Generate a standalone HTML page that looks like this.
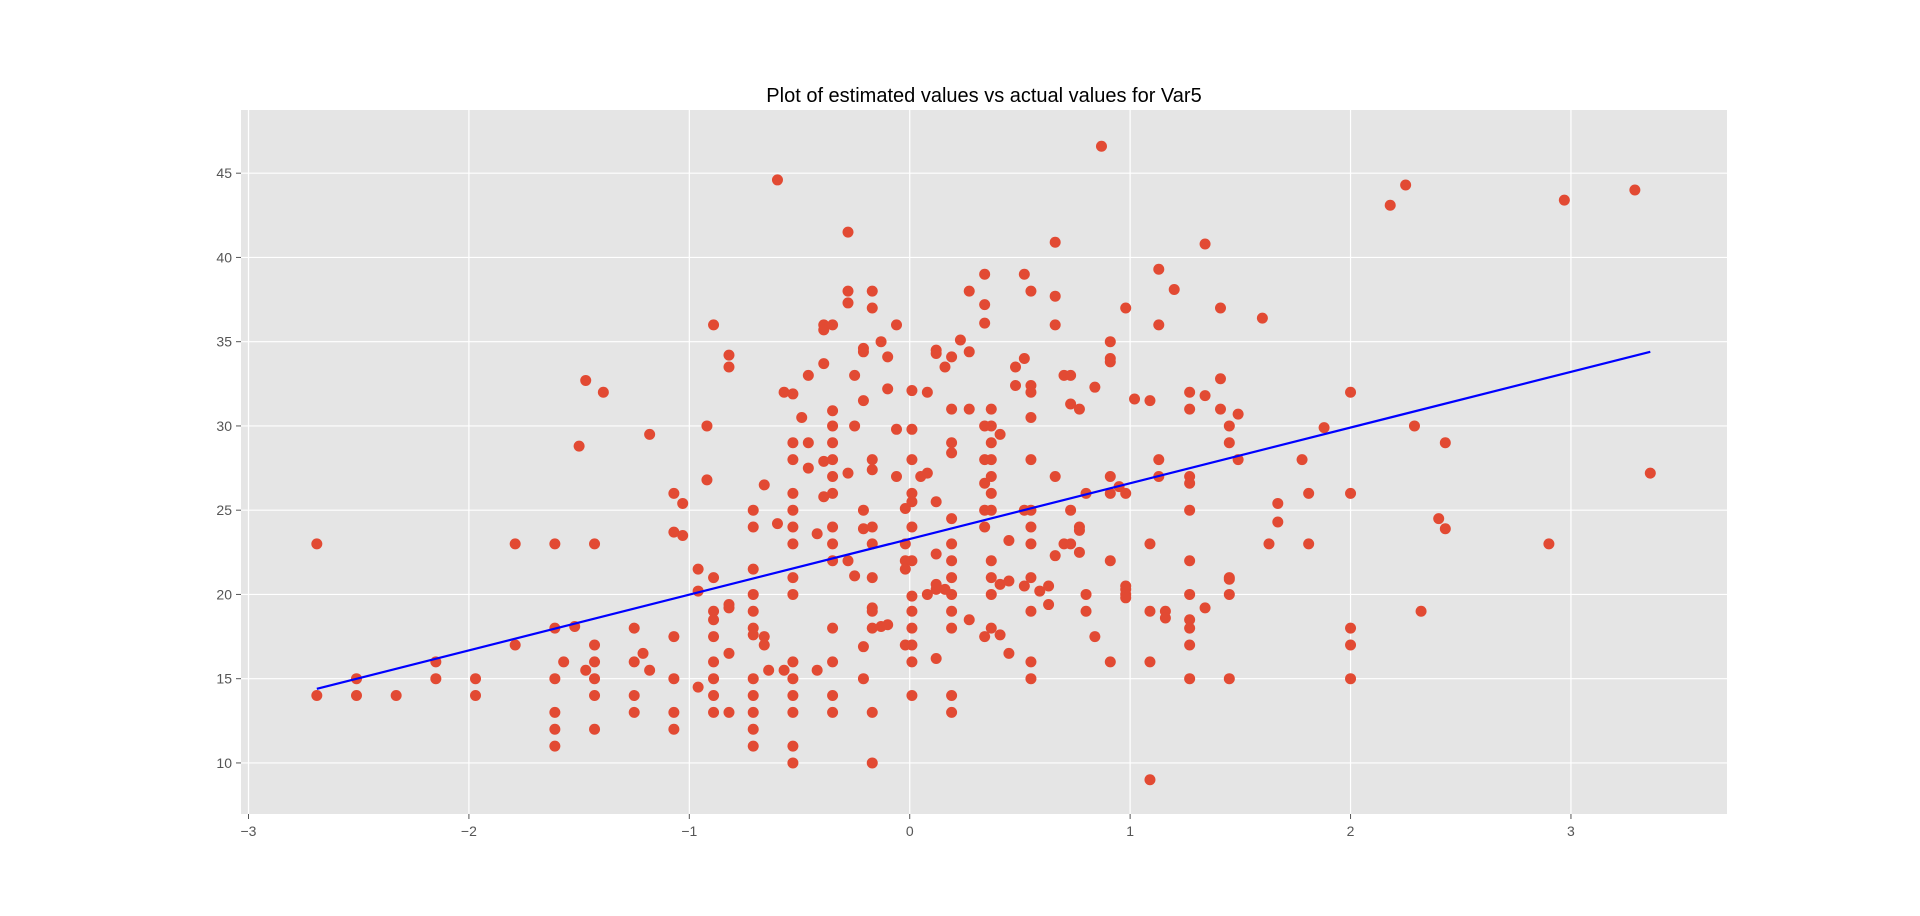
<!DOCTYPE html>
<html><head><meta charset="utf-8"><style>
html,body{margin:0;padding:0;background:#fff;}
svg{display:block;font-family:"Liberation Sans","DejaVu Sans",sans-serif;}
</style></head><body>
<svg id="chart" width="1920" height="916" viewBox="0 0 1920 916" xmlns="http://www.w3.org/2000/svg">
<rect x="0" y="0" width="1920" height="916" fill="#ffffff"/>
<rect x="241" y="110" width="1486" height="704" fill="#e5e5e5"/>
<g id="grid"></g>
<g id="ticks"></g>
<g id="points"></g>
<g id="fit"></g>
<text x="984" y="102" text-anchor="middle" font-size="20" fill="#000">Plot of estimated values vs actual values for Var5</text>
</svg>
<script>
const xTicks = [-3, -2, -1, 0, 1, 2, 3];
const yTicks = [10, 15, 20, 25, 30, 35, 40, 45];
const groupX = [-2.69,-2.51,-2.33,-2.15,-1.97,-1.79,-1.61,-1.57,-1.52,-1.50,-1.47,-1.43,-1.39,-1.25,-1.21,-1.18,-1.07,-1.03,-0.96,-0.92,-0.89,-0.82,-0.71,-0.66,-0.64,-0.60,-0.57,-0.53,-0.49,-0.46,-0.42,-0.39,-0.35,-0.28,-0.25,-0.21,-0.17,-0.13,-0.10,-0.06,-0.02,0.01,0.05,0.08,0.12,0.16,0.19,0.23,0.27,0.34,0.37,0.41,0.45,0.48,0.52,0.55,0.59,0.63,0.66,0.70,0.73,0.77,0.80,0.84,0.87,0.91,0.95,0.98,1.02,1.09,1.13,1.16,1.20,1.27,1.34,1.41,1.45,1.49,1.60,1.63,1.67,1.78,1.81,1.88,2.00,2.18,2.25,2.29,2.32,2.40,2.43,2.90,2.97,3.29,3.36];
const groupY = [
[23,14],[15,14],[14],[16,15],[15,14],[23,17],[23,18,15,13,12,11],[16],[18.1],[28.8],[32.7,15.5],[23,17,16,15,14,12],[32],
[18,16,14,13],[16.5],[29.5,15.5],[26,23.7,17.5,15,13,12],[25.4,23.5],[21.5,20.2,14.5],[30,26.8],
[36,21,19,18.5,17.5,16,15,14,13],[34.2,33.5,19.4,19.2,16.5,13],[25,24,21.5,20,19,18,17.6,15,14,13,12,11],
[26.5,17,17.5],[15.5],[24.2,44.6],[32,15.5],[31.9,29,28,26,25,24,23,21,20,16,15,14,13,11,10],[30.5],[33,29,27.5],
[23.6,15.5],[33.7,36,35.7,27.9,25.8],[36,30.9,30,29,28,27,26,24,23,22,18,16,14,13],[41.5,38,37.3,22,27.2],[33,30,21.1],
[34.6,34.4,31.5,25,23.9,16.9,15],[38,37,28,27.4,24,23,21,19.2,19,18,13,10],[35,18.1],[32.2,34.1,18.2],[36,29.8,27],
[25.1,23,22,21.5,17],[32.1,29.8,28,26,25.5,24,22,19.9,19,18,17,16,14],[27],[32,27.2,20],[34.5,34.3,25.5,22.4,20.6,20.3,16.2],
[33.5,20.3],[34.1,31,29,28.4,24.5,23,22,21,20,19,18,14,13],[35.1],[38,34.4,31,18.5],[39,37.2,36.1,30,28,26.6,25,24,17.5],
[31,30,29,28,27,26,25,22,21,20,18],[29.5,20.6,17.6],[23.2,20.8,16.5],[33.5,32.4],[39,34,25,20.5],
[38,32.4,32,30.5,28,25,24,23,21,19,16,15],[20.2],[19.4,20.5],[40.9,37.7,36,27,22.3],[33,23],[33,31.3,25,23],
[31,24,23.8,22.5],[26,20,19],[32.3,17.5],[46.6],[35,34,33.8,27,26,22,16],[26.4],[37,26,20.5,20.3,20,19.8],[31.6],
[31.5,23,19,16,9],[39.3,36,28,27],[19,18.6],[38.1],[32,31,27,26.6,25,22,20,18.5,18,17,15],[40.8,31.8,19.2],[37,32.8,31],
[30,29,21,20.9,20,15],[30.7,28],[36.4],[23],[25.4,24.3],[28],[26,23],[29.9],[32,26,18,17,15],[43.1],[44.3],[30],[19],[24.5],
[29,23.9],[23],[43.4],[44],[27.2]];
const lineX = [-2.69, 3.36];
const lineY = [14.4, 34.4];

const NS = 'http://www.w3.org/2000/svg';
const L = 241, R = 1727, T = 110, B = 814;
const xMin = -3.034, xMax = 3.708, yMin = 6.97, yMax = 48.75;
function sx(v){ return L + (v - xMin) / (xMax - xMin) * (R - L); }
function sy(v){ return B - (v - yMin) / (yMax - yMin) * (B - T); }
function mk(tag, attrs, parent){ const e = document.createElementNS(NS, tag); for (const k in attrs) e.setAttribute(k, attrs[k]); parent.appendChild(e); return e; }

const grid = document.getElementById('grid');
const ticks = document.getElementById('ticks');
xTicks.forEach(t => {
  const x = sx(t);
  const g = mk('line', {x1:x, x2:x, y1:T, y2:B, stroke:'#ffffff', 'stroke-width':1.2}, grid);
  
  
  const tk = mk('line', {x1:x, x2:x, y1:B, y2:B+5, stroke:'#555', 'stroke-width':1}, ticks);
  
  
  const lb = mk('text', {x:x, y:B+22, 'text-anchor':'middle', 'font-size':14, fill:'#555'}, ticks);
  lb.textContent = t < 0 ? '\u2212' + Math.abs(t) : String(t);
  
  
});
yTicks.forEach(t => {
  const y = sy(t);
  const g = mk('line', {x1:L, x2:R, y1:y, y2:y, stroke:'#ffffff', 'stroke-width':1.2}, grid);
  
  
  const tk = mk('line', {x1:L-5, x2:L, y1:y, y2:y, stroke:'#555', 'stroke-width':1}, ticks);
  
  
  const lb = mk('text', {x:L-9, y:y+5, 'text-anchor':'end', 'font-size':14, fill:'#555'}, ticks);
  lb.textContent = String(t);
  
  
});
const pts = document.getElementById('points');
groupX.forEach((xv, i) => {
  (groupY[i] || []).forEach(yv => {
    const c = mk('circle', {cx:sx(xv), cy:sy(yv), r:5.5, fill:'#E24A33'}, pts);
    
    
  });
});
const fit = document.getElementById('fit');
const ln = mk('line', {x1:sx(lineX[0]), y1:sy(lineY[0]), x2:sx(lineX[1]), y2:sy(lineY[1]), stroke:'#0000ff', 'stroke-width':2.2}, fit);


</script>
</body></html>
